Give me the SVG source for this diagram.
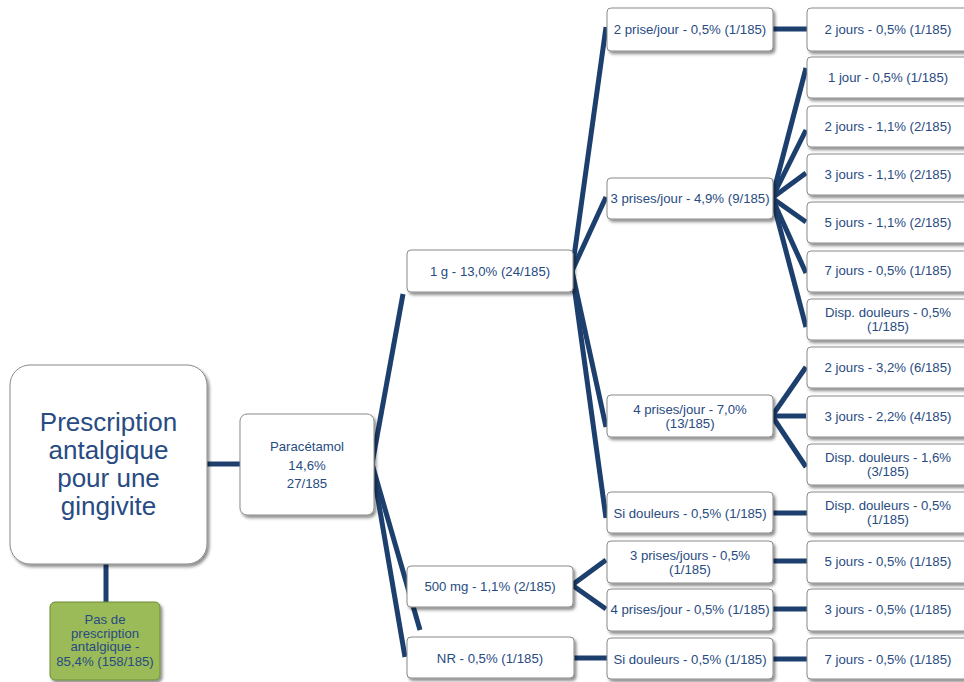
<svg xmlns="http://www.w3.org/2000/svg" width="964" height="682" viewBox="0 0 964 682">
<defs>
<filter id="sh" x="-20%" y="-20%" width="140%" height="150%">
<feDropShadow dx="2" dy="2.5" stdDeviation="1.6" flood-color="#000" flood-opacity="0.45"/>
</filter>
<style>
.n{fill:#fff;stroke:#8a8a8a;stroke-width:1;filter:url(#sh)}
.g{fill:#9BBB59;stroke:#6E8B3D;stroke-width:1;filter:url(#sh)}
.t{font-family:"Liberation Sans",Arial,sans-serif;font-size:13.2px;fill:#284B82;text-anchor:middle}
.big{font-size:26px}
.c line{stroke:#1D3F6E;stroke-width:5;stroke-linecap:butt}
</style>
</defs>
<rect width="964" height="682" fill="#fff"/>
<g class="c" id="connectors">
<line x1="106" y1="564" x2="106" y2="602"/>
<line x1="207" y1="464" x2="240" y2="464"/>
<line x1="372" y1="464" x2="403" y2="294"/>
<line x1="372" y1="464" x2="420" y2="630"/>
<line x1="372" y1="464" x2="405" y2="657"/>
<line x1="572" y1="271" x2="606" y2="27"/>
<line x1="572" y1="271" x2="606" y2="197"/>
<line x1="572" y1="271" x2="606" y2="427"/>
<line x1="572" y1="271" x2="606" y2="518"/>
<line x1="572" y1="585" x2="606" y2="560"/>
<line x1="572" y1="585" x2="606" y2="609"/>
<line x1="574" y1="658" x2="607" y2="658"/>
<line x1="772" y1="198" x2="806" y2="68"/>
<line x1="772" y1="198" x2="806" y2="130"/>
<line x1="772" y1="198" x2="806" y2="173"/>
<line x1="772" y1="198" x2="806" y2="222"/>
<line x1="772" y1="198" x2="806" y2="273"/>
<line x1="772" y1="198" x2="806" y2="327"/>
<line x1="772" y1="416" x2="806" y2="367"/>
<line x1="772" y1="416" x2="806" y2="416"/>
<line x1="772" y1="416" x2="806" y2="467"/>
<line x1="773" y1="29" x2="807" y2="29"/>
<line x1="773" y1="513" x2="807" y2="513"/>
<line x1="773" y1="561" x2="807" y2="561"/>
<line x1="773" y1="609" x2="807" y2="609"/>
<line x1="773" y1="659" x2="807" y2="659"/>
</g>
<g id="root"><rect class="n" x="10" y="365" width="197" height="199" rx="20"/>
<text class="t big" x="108.5"><tspan x="108.5" y="431">Prescription</tspan><tspan x="108.5" y="459">antalgique</tspan><tspan x="108.5" y="487">pour une</tspan><tspan x="108.5" y="515">gingivite</tspan></text></g>
<g id="none"><rect class="g" x="50" y="602" width="110" height="78" rx="5"/>
<text class="t"><tspan x="105" y="624">Pas de</tspan><tspan x="105" y="637.5">prescription</tspan><tspan x="105" y="651">antalgique -</tspan><tspan x="105" y="666">85,4% (158/185)</tspan></text></g>
<g id="para"><rect class="n" x="240" y="414" width="134" height="101" rx="7"/>
<text class="t"><tspan x="307" y="451">Paracétamol</tspan><tspan x="307" y="470">14,6%</tspan><tspan x="307" y="488">27/185</tspan></text></g>
<g id="d1g"><rect class="n" x="407" y="250" width="166" height="42" rx="4"/><text class="t" x="490" y="275.5">1 g - 13,0% (24/185)</text></g>
<g id="d500"><rect class="n" x="407" y="566" width="166" height="41" rx="4"/><text class="t" x="490" y="590.5">500 mg - 1,1% (2/185)</text></g>
<g id="dnr"><rect class="n" x="407" y="637" width="167" height="41" rx="4"/><text class="t" x="490" y="662.5">NR - 0,5% (1/185)</text></g>
<g id="f2"><rect class="n" x="607" y="8" width="166" height="43" rx="4"/><text class="t" x="690" y="33.5">2 prise/jour - 0,5% (1/185)</text></g>
<g id="f3"><rect class="n" x="607" y="178" width="166" height="41" rx="4"/><text class="t" x="690" y="202.5">3 prises/jour - 4,9% (9/185)</text></g>
<g id="f4"><rect class="n" x="607" y="395" width="166" height="42" rx="4"/><text class="t"><tspan x="690" y="413.5">4 prises/jour - 7,0%</tspan><tspan x="690" y="427.5">(13/185)</tspan></text></g>
<g id="fsd"><rect class="n" x="607" y="492" width="166" height="41" rx="4"/><text class="t" x="690" y="517.5">Si douleurs - 0,5% (1/185)</text></g>
<g id="f3b"><rect class="n" x="607" y="541" width="166" height="42" rx="4"/><text class="t"><tspan x="690" y="559.5">3 prises/jours - 0,5%</tspan><tspan x="690" y="573.5">(1/185)</tspan></text></g>
<g id="f4b"><rect class="n" x="607" y="589" width="166" height="42" rx="4"/><text class="t" x="690" y="613.5">4 prises/jour - 0,5% (1/185)</text></g>
<g id="fsd2"><rect class="n" x="607" y="638" width="166" height="41" rx="4"/><text class="t" x="690" y="663.5">Si douleurs - 0,5% (1/185)</text></g>
<g id="e1"><rect class="n" x="807" y="8" width="164" height="43" rx="4"/><text class="t" x="888" y="33.5">2 jours - 0,5% (1/185)</text></g>
<g id="e2"><rect class="n" x="807" y="57" width="164" height="41" rx="4"/><text class="t" x="888" y="81.5">1 jour - 0,5% (1/185)</text></g>
<g id="e3"><rect class="n" x="807" y="106" width="164" height="41" rx="4"/><text class="t" x="888" y="130.5">2 jours - 1,1% (2/185)</text></g>
<g id="e4"><rect class="n" x="807" y="154" width="164" height="41" rx="4"/><text class="t" x="888" y="178.5">3 jours - 1,1% (2/185)</text></g>
<g id="e5"><rect class="n" x="807" y="202" width="164" height="41" rx="4"/><text class="t" x="888" y="226.5">5 jours - 1,1% (2/185)</text></g>
<g id="e6"><rect class="n" x="807" y="251" width="164" height="41" rx="4"/><text class="t" x="888" y="275">7 jours - 0,5% (1/185)</text></g>
<g id="e7"><rect class="n" x="807" y="299" width="164" height="41" rx="4"/><text class="t"><tspan x="888" y="317">Disp. douleurs - 0,5%</tspan><tspan x="888" y="331">(1/185)</tspan></text></g>
<g id="e8"><rect class="n" x="807" y="347" width="164" height="41" rx="4"/><text class="t" x="888" y="371.5">2 jours - 3,2% (6/185)</text></g>
<g id="e9"><rect class="n" x="807" y="396" width="164" height="41" rx="4"/><text class="t" x="888" y="420.5">3 jours - 2,2% (4/185)</text></g>
<g id="e10"><rect class="n" x="807" y="444" width="164" height="41" rx="4"/><text class="t"><tspan x="888" y="462">Disp. douleurs - 1,6%</tspan><tspan x="888" y="476">(3/185)</tspan></text></g>
<g id="e11"><rect class="n" x="807" y="492" width="164" height="41" rx="4"/><text class="t"><tspan x="888" y="510">Disp. douleurs - 0,5%</tspan><tspan x="888" y="524">(1/185)</tspan></text></g>
<g id="e12"><rect class="n" x="807" y="541" width="164" height="42" rx="4"/><text class="t" x="888" y="565.5">5 jours - 0,5% (1/185)</text></g>
<g id="e13"><rect class="n" x="807" y="589" width="164" height="42" rx="4"/><text class="t" x="888" y="613.5">3 jours - 0,5% (1/185)</text></g>
<g id="e14"><rect class="n" x="807" y="638" width="164" height="41" rx="4"/><text class="t" x="888" y="663.5">7 jours - 0,5% (1/185)</text></g>
</svg>
